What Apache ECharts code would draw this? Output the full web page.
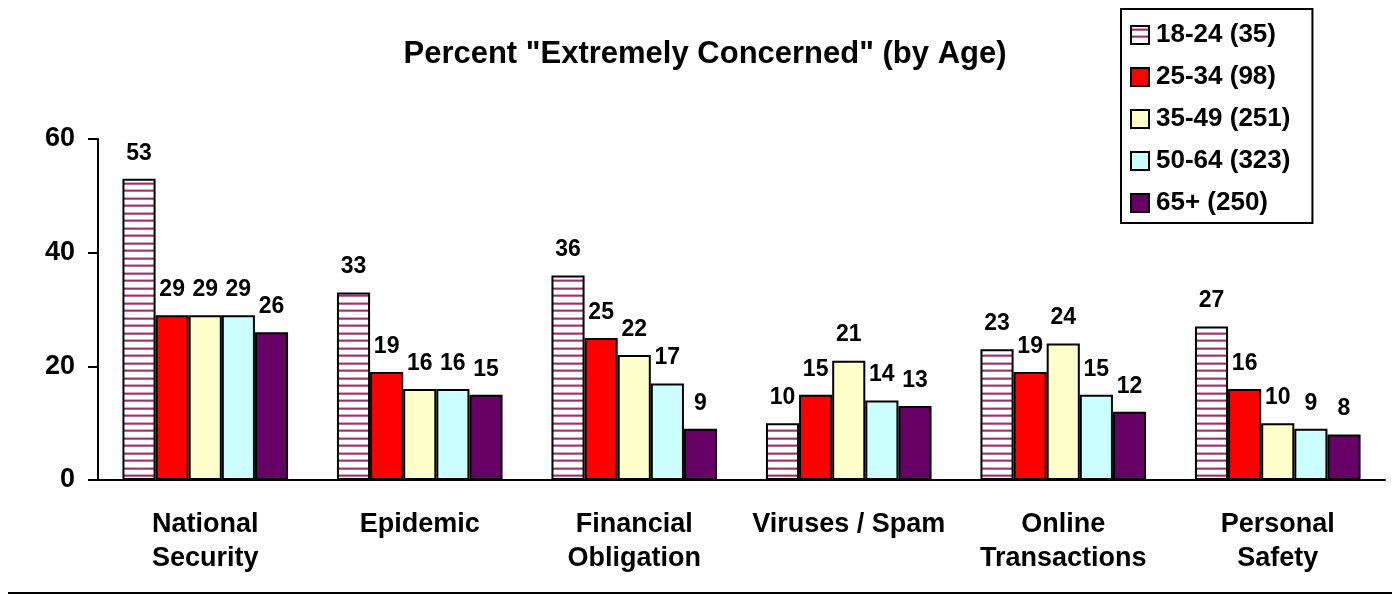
<!DOCTYPE html>
<html><head><meta charset="utf-8">
<script src="https://cdn.jsdelivr.net/npm/echarts@6/dist/echarts.min.js"></script>
<style>html,body{margin:0;padding:0;background:#fff}#c{width:1398px;height:595px}</style>
</head><body><div id="c"></div>
<script>
const categories = ['National\nSecurity', 'Epidemic', 'Financial\nObligation', 'Viruses / Spam', 'Online\nTransactions', 'Personal\nSafety'];
const seriesNames = ['18-24 (35)', '25-34 (98)', '35-49 (251)', '50-64 (323)', '65+ (250)'];
const age1824 = [53, 33, 36, 10, 23, 27];
const age2534 = [29, 19, 25, 15, 19, 16];
const age3549 = [29, 16, 22, 21, 24, 10];
const age5064 = [29, 16, 17, 14, 15, 9];
const age65 = [26, 15, 9, 13, 12, 8];
const yTicks = [0, 20, 40, 60];

const pc = document.createElement('canvas');
pc.width = 8; pc.height = 15;
const g = pc.getContext('2d');
g.fillStyle = '#fff'; g.fillRect(0, 0, 8, 15);
g.fillStyle = '#d9a6c0'; g.fillRect(0, 2, 8, 3); g.fillRect(0, 9, 8, 3);
g.fillStyle = '#993366'; g.fillRect(0, 3, 8, 1.5); g.fillRect(0, 10, 8, 1.5);
const stripe = { image: pc, repeat: 'repeat' };

const colors = [stripe, '#FF0000', '#FFFFCC', '#CCFFFF', '#660066'];
const dataSets = [age1824, age2534, age3549, age5064, age65];
const font = 'Arial, "Liberation Sans", sans-serif';

const chart = echarts.init(document.getElementById('c'), null, { renderer: 'canvas' });
chart.setOption({
  animation: false,
  title: {
    text: 'Percent "Extremely Concerned" (by Age)',
    left: 700, top: 34, textAlign: 'center',
    textStyle: { fontFamily: font, fontWeight: 'bold', fontSize: 31, color: '#000' }
  },
  legend: {
    orient: 'vertical', left: 1121, top: 9,
    padding: [13, 22, 7, 9],
    itemGap: 16, itemWidth: 18, itemHeight: 18,
    icon: 'rect',
    borderColor: '#000', borderWidth: 2,
    textStyle: { fontFamily: font, fontWeight: 'bold', fontSize: 26, lineHeight: 26, color: '#000', padding: [0, 0, 0, 2] },
    data: seriesNames
  },
  grid: { left: 98, right: 13, top: 139, bottom: 115, containLabel: false },
  xAxis: {
    type: 'category', data: categories,
    axisLine: { lineStyle: { color: '#000', width: 2 } },
    axisTick: { show: false },
    axisLabel: { interval: 0, fontFamily: font, fontWeight: 'bold', fontSize: 27, color: '#000', margin: 28, lineHeight: 34 }
  },
  yAxis: {
    type: 'value', min: yTicks[0], max: yTicks[yTicks.length - 1], interval: 20,
    axisLine: { show: true, lineStyle: { color: '#000', width: 2 } },
    axisTick: { show: true, inside: false, length: 10, lineStyle: { color: '#000', width: 2 } },
    splitLine: { show: false },
    axisLabel: { fontFamily: font, fontWeight: 'bold', fontSize: 27, color: '#000', margin: 23 }
  },
  series: dataSets.map((d, i) => ({
    name: seriesNames[i], type: 'bar', data: d,
    barGap: '0%', barCategoryGap: '22.8%',
    itemStyle: { color: colors[i], borderColor: '#000', borderWidth: 2 },
    label: { show: true, position: 'top', distance: 14, fontFamily: font, fontWeight: 'bold', fontSize: 23, color: '#000' }
  })),
  graphic: [{
    type: 'line', shape: { x1: 8, y1: 593, x2: 1392, y2: 593 },
    style: { stroke: '#000', lineWidth: 2 }
  }]
});
</script></body></html>
